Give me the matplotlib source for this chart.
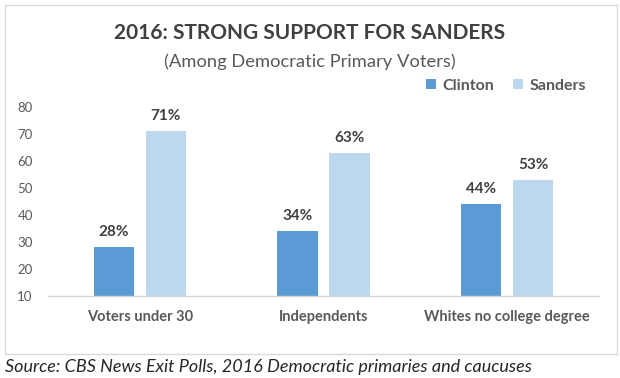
import numpy as np
import matplotlib.pyplot as plt
from matplotlib.patches import Rectangle

plt.rcParams['font.family'] = ['Lato', 'DejaVu Sans']

# Data
groups = ['Voters under 30', 'Independents', 'Whites no college degree']
clinton = [28, 34, 44]
sanders = [71, 63, 53]
yticks = [10, 20, 30, 40, 50, 60, 70, 80]

c_blue = '#5B9BD5'
c_light = '#BDD7EE'
txt = '#404040'
grey = '#595959'

fig = plt.figure(figsize=(6.2, 3.78), dpi=100)
ax = fig.add_axes([48/620, 1-296/378, 551/620, 189/378])

x = np.arange(len(groups))
w = 0.22
off = 0.141
b1 = ax.bar(x - off, np.array(clinton) - 10, w, bottom=10, color=c_blue, label='Clinton')
b2 = ax.bar(x + off, np.array(sanders) - 10, w, bottom=10, color=c_light, label='Sanders')

# value labels
for xs, vals in [(x - off, clinton), (x + off, sanders)]:
    for xi, v in zip(xs, vals):
        ax.annotate(f'{v}%', (xi, v), xytext=(0, 6), textcoords='offset points',
                    ha='center', va='bottom', fontsize=11, fontweight='bold', color=txt)

ax.set_xlim(-0.5, 2.5)
ax.set_ylim(10, 80)
ax.set_yticks(yticks)
ax.set_xticks(x)
ax.set_xticklabels(groups, fontsize=10.5, fontweight='bold', color=grey)
ax.tick_params(axis='y', length=0, pad=11, labelsize=9.5, labelcolor=grey)
ax.tick_params(axis='x', length=0, pad=10)
for s in ['top', 'right', 'left']:
    ax.spines[s].set_visible(False)
ax.spines['bottom'].set_color('#D9D9D9')
ax.spines['bottom'].set_linewidth(1)
ax.set_facecolor('none')

# outer frame
fig.patches.append(Rectangle((5/620, 1-354/378), 612/620, 349/378, transform=fig.transFigure,
                             fill=False, edgecolor='#D9D9D9', linewidth=1))

fig.text(0.5, 1-33/378, '2016: STRONG SUPPORT FOR SANDERS', ha='center', va='center',
         fontsize=15, fontweight='bold', color=txt)
fig.text(0.5, 1-62/378, '(Among Democratic Primary Voters)', ha='center', va='center',
         fontsize=13.2, color=grey)

fig.legend(handles=[b1, b2], loc='center right', bbox_to_anchor=(600/620, 1-86/378), ncol=2,
           frameon=False, handlelength=0.6, handleheight=0.6, handletextpad=0.4,
           columnspacing=1.2, prop={'size': 11.5, 'weight': 'bold'}, labelcolor=grey)

fig.text(5/620, 1-367/378, 'Source: CBS News Exit Polls, 2016 Democratic primaries and caucuses',
         ha='left', va='center', fontsize=13, style='italic', color='#262626')

fig.savefig('out.png', dpi=100)
